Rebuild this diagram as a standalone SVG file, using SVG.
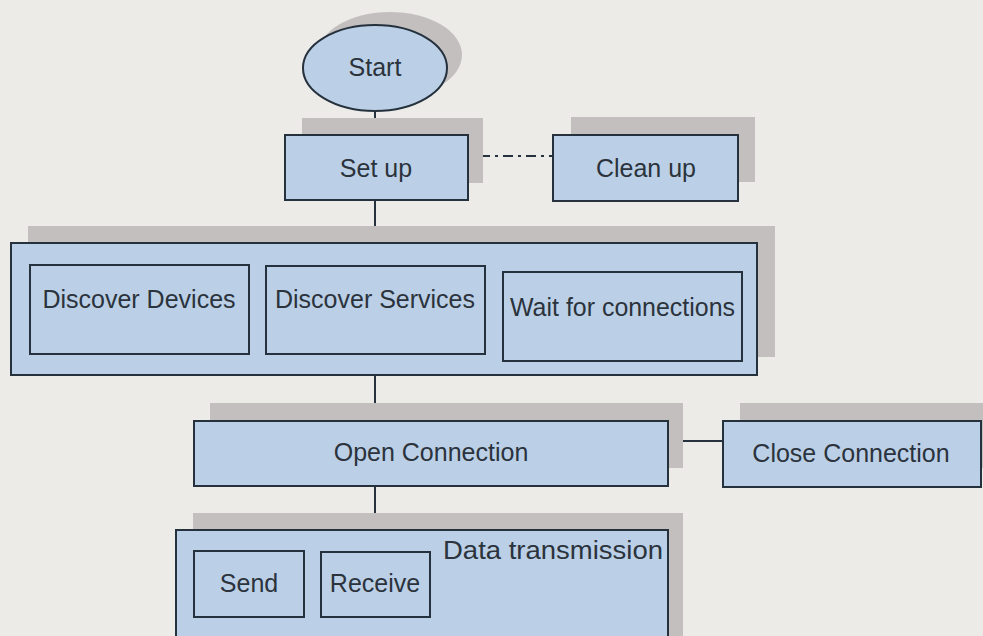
<svg xmlns="http://www.w3.org/2000/svg" width="983" height="636" viewBox="0 0 983 636">
<style>
.bg{fill:#ecebe8}
.sh{fill:#c3bfbf}
.box{fill:#bbd0e6;stroke:#25313d;stroke-width:2}
.t{font-family:"Liberation Sans",Arial,sans-serif;font-size:25px;fill:#2b333d}
.c{text-anchor:middle}
.ln{stroke:#25313d;stroke-width:2;fill:none}
</style>
<rect class="bg" x="0" y="0" width="983" height="636"/>
<g id="connectors">
<line class="ln" x1="375" y1="112" x2="375" y2="135"/>
<line class="ln" x1="375" y1="200" x2="375" y2="243"/>
<line class="ln" x1="375" y1="375" x2="375" y2="421"/>
<line class="ln" x1="375" y1="486" x2="375" y2="530"/>
<line class="ln" x1="668" y1="441" x2="723" y2="441"/>
<line class="ln" x1="480" y1="156" x2="553" y2="156" stroke-dasharray="10,5,3,5"/>
</g>
<g id="start">
<ellipse class="sh" cx="390" cy="55" rx="72" ry="43"/>
<ellipse class="box" cx="375" cy="68" rx="72" ry="43"/>
<text class="t c" x="375" y="76">Start</text>
</g>
<g id="setup">
<rect class="sh" x="302" y="118" width="181" height="65"/>
<rect class="box" x="285" y="135" width="183" height="65"/>
<text class="t c" x="376" y="177">Set up</text>
</g>
<g id="cleanup">
<rect class="sh" x="571" y="117" width="184" height="65"/>
<rect class="box" x="553" y="135" width="185" height="66"/>
<text class="t c" x="646" y="177">Clean up</text>
</g>
<g id="discovery">
<rect class="sh" x="28" y="226" width="747" height="131"/>
<rect class="box" x="11" y="243" width="746" height="132"/>
<g id="discover-devices">
<rect class="box" x="30" y="265" width="219" height="89"/>
<text class="t c" x="139" y="308">Discover Devices</text>
</g>
<g id="discover-services">
<rect class="box" x="266" y="266" width="219" height="88"/>
<text class="t c" x="375" y="308">Discover Services</text>
</g>
<g id="wait-connections">
<rect class="box" x="503" y="272" width="239" height="89"/>
<text class="t" x="510" y="316" textLength="225" lengthAdjust="spacingAndGlyphs">Wait for connections</text>
</g>
</g>
<g id="open-connection">
<rect class="sh" x="210" y="403" width="473" height="65"/>
<rect class="box" x="194" y="421" width="474" height="65"/>
<text class="t c" x="431" y="461">Open Connection</text>
</g>
<g id="close-connection">
<rect class="sh" x="740" y="403" width="250" height="65"/>
<rect class="box" x="723" y="421" width="258" height="66"/>
<text class="t c" x="851" y="462">Close Connection</text>
</g>
<g id="data-transmission">
<rect class="sh" x="193" y="513" width="490" height="130"/>
<rect class="box" x="176" y="530" width="492" height="115"/>
<text class="t" x="443" y="559" textLength="220" lengthAdjust="spacingAndGlyphs">Data transmission</text>
<g id="send">
<rect class="box" x="194" y="551" width="110" height="66"/>
<text class="t c" x="249" y="592">Send</text>
</g>
<g id="receive">
<rect class="box" x="321" y="552" width="109" height="65"/>
<text class="t c" x="375" y="592">Receive</text>
</g>
</g>
</svg>
